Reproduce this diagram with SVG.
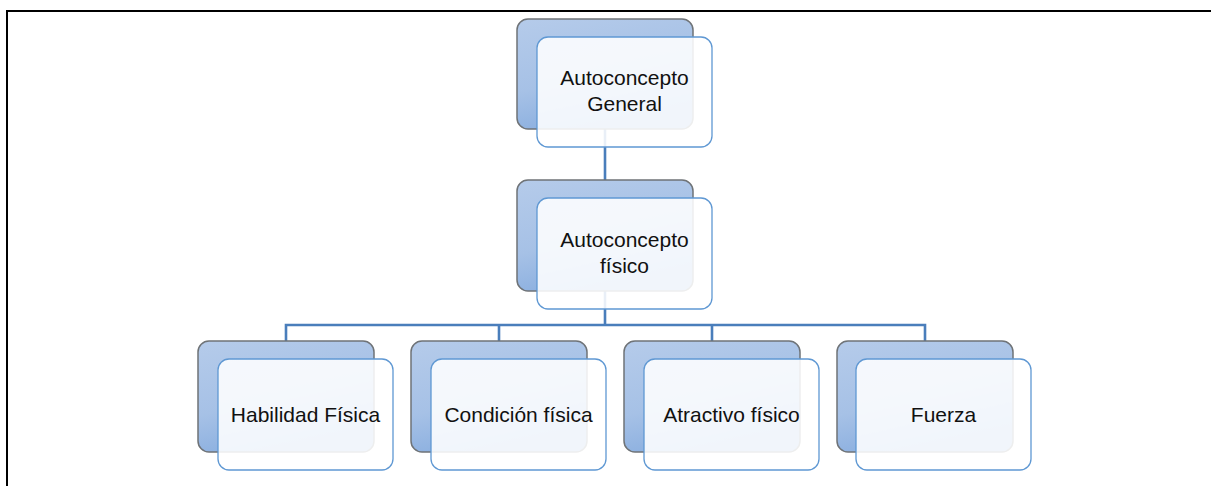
<svg xmlns="http://www.w3.org/2000/svg" width="1211" height="486" viewBox="0 0 1211 486">
  <defs>
    <linearGradient id="backGrad" x1="0" y1="0" x2="0.35" y2="1">
      <stop offset="0" stop-color="#b5cbea"/>
      <stop offset="0.6" stop-color="#a6c1e6"/>
      <stop offset="1" stop-color="#89aedf"/>
    </linearGradient>
    <style>
      .back { fill: url(#backGrad); stroke: #6f7377; stroke-width: 1.5; }
      .front { fill: #ffffff; fill-opacity: 0.88; stroke: #5f98d3; stroke-width: 1.3; }
      .lbl { font-family: "Liberation Sans", Arial, sans-serif; font-size: 21px; fill: #111111; text-anchor: middle; }
      .conn { fill: none; stroke: #4a7ebb; stroke-width: 2.6; }
      .frame { fill: none; stroke: #000000; stroke-width: 2; }
    </style>
  </defs>
  <rect x="0" y="0" width="1211" height="486" fill="#ffffff"/>
  <path class="frame" d="M7,486 V11 H1211"/>

  <g id="connectors">
    <path class="conn" d="M605,129 V180"/>
    <path class="conn" d="M605,291 V325"/>
    <path class="conn" d="M286,341 V325 H925 V341"/>
    <path class="conn" d="M499,325 V341"/>
    <path class="conn" d="M712,325 V341"/>
  </g>

  <g id="node-general">
    <rect class="back" x="517" y="19" width="176" height="110" rx="11"/>
    <rect class="front" x="537" y="37" width="175" height="110" rx="11"/>
    <text class="lbl" x="624.5" y="85">Autoconcepto</text>
    <text class="lbl" x="624.5" y="111">General</text>
  </g>

  <g id="node-fisico">
    <rect class="back" x="517" y="180" width="176" height="111" rx="11"/>
    <rect class="front" x="537" y="198" width="175" height="111" rx="11"/>
    <text class="lbl" x="624.5" y="247">Autoconcepto</text>
    <text class="lbl" x="624.5" y="273">físico</text>
  </g>

  <g id="node-habilidad">
    <rect class="back" x="198" y="341" width="176" height="111" rx="11"/>
    <rect class="front" x="218" y="359" width="175" height="111" rx="11"/>
    <text class="lbl" x="305.5" y="422">Habilidad Física</text>
  </g>

  <g id="node-condicion">
    <rect class="back" x="411" y="341" width="176" height="111" rx="11"/>
    <rect class="front" x="431" y="359" width="175" height="111" rx="11"/>
    <text class="lbl" x="518.5" y="422">Condición física</text>
  </g>

  <g id="node-atractivo">
    <rect class="back" x="624" y="341" width="176" height="111" rx="11"/>
    <rect class="front" x="644" y="359" width="175" height="111" rx="11"/>
    <text class="lbl" x="731.5" y="422">Atractivo físico</text>
  </g>

  <g id="node-fuerza">
    <rect class="back" x="837" y="341" width="176" height="111" rx="11"/>
    <rect class="front" x="856" y="359" width="175" height="111" rx="11"/>
    <text class="lbl" x="943.5" y="422">Fuerza</text>
  </g>
</svg>
